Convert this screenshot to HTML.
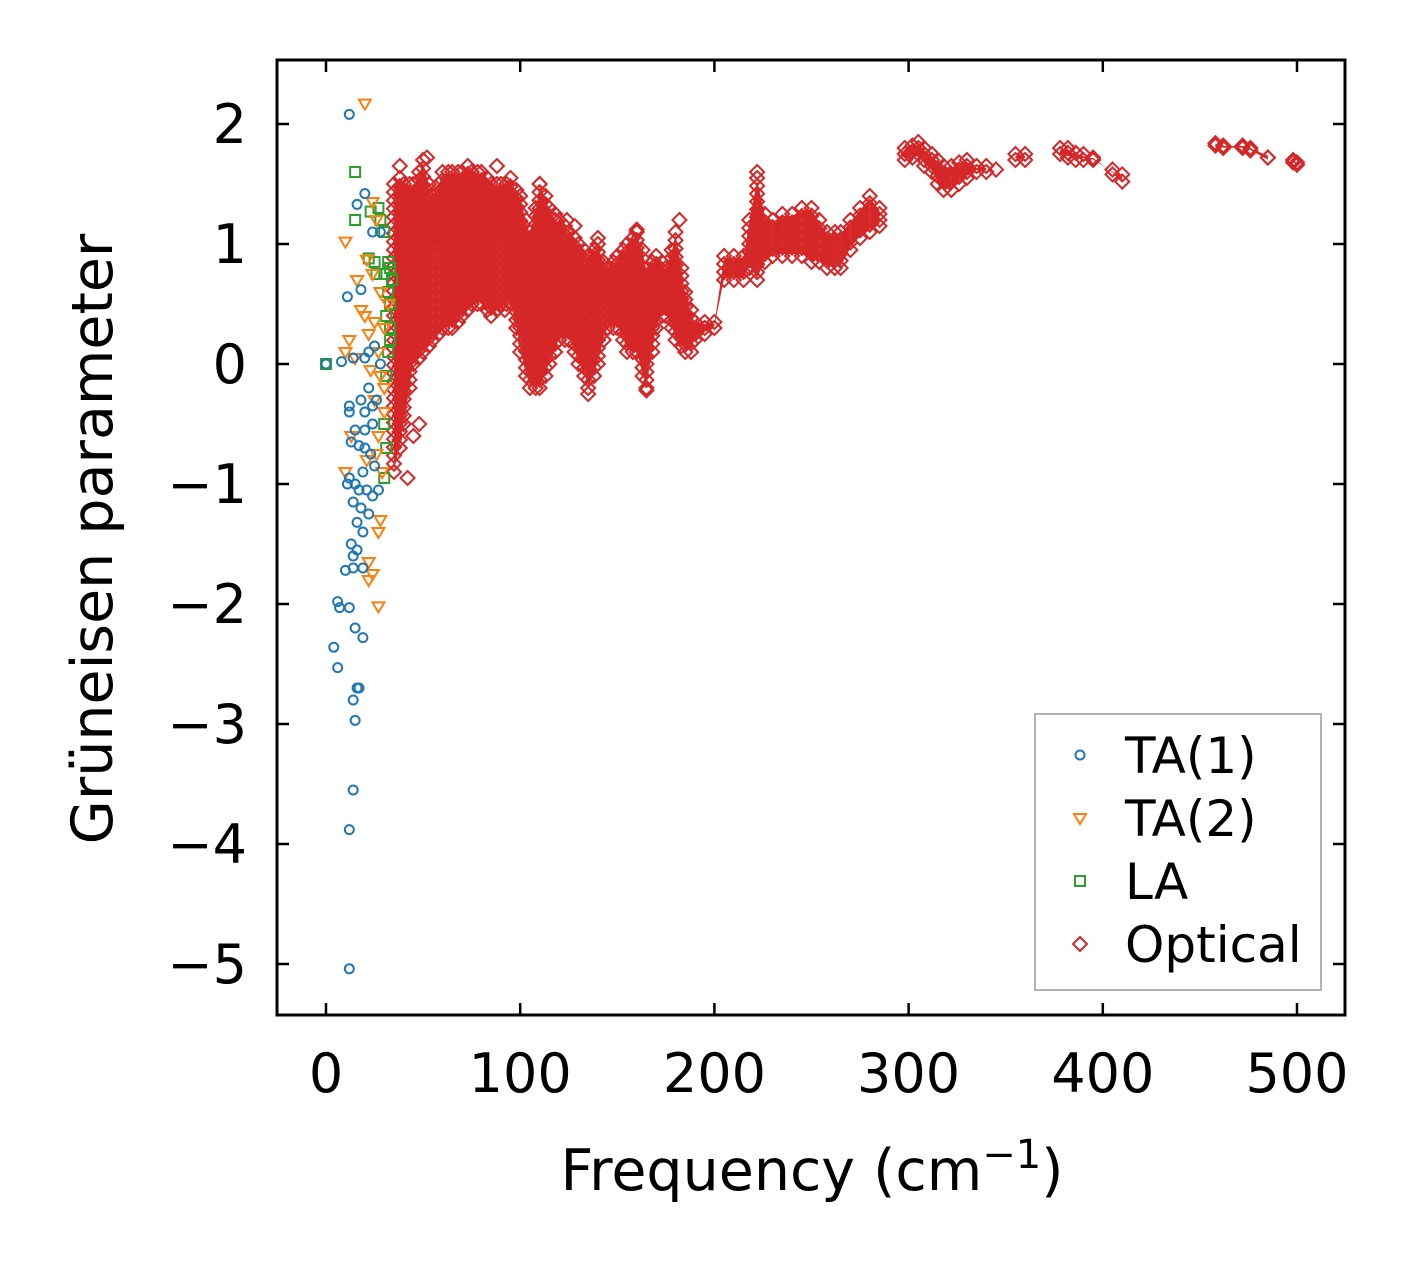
<!DOCTYPE html>
<html><head><meta charset="utf-8"><style>
html,body{margin:0;padding:0;background:#fff;}
svg text{font-family:"DejaVu Sans","Liberation Sans",sans-serif;fill:#000;}
</style></head><body>
<svg id="chart" width="1412" height="1264" viewBox="0 0 1412 1264" xmlns="http://www.w3.org/2000/svg">
<rect x="0" y="0" width="1412" height="1264" fill="#fff"/>
<g id="plot"></g>
<g id="axes"></g>
<text x="812" y="1190" font-size="57" text-anchor="middle">Frequency (cm<tspan dy="-22" font-size="40">−1</tspan><tspan dy="22">)</tspan></text>
<text transform="translate(112,539) rotate(-90)" font-size="57" text-anchor="middle">Grüneisen parameter</text>
<g>
<rect x="1035" y="714" width="286" height="276" fill="#fff" stroke="#999" stroke-width="1.5"/>
<circle cx="1080" cy="755" r="4.5" fill="none" stroke="#1f77b4" stroke-width="2"/>
<text x="1125" y="773" font-size="50">TA(1)</text>
<path d="M1074,814 L1086,814 L1080,824 Z" fill="none" stroke="#ff7f0e" stroke-width="2"/>
<text x="1125" y="836" font-size="50">TA(2)</text>
<rect x="1075" y="876" width="10" height="10" fill="none" stroke="#2ca02c" stroke-width="2"/>
<text x="1125" y="899" font-size="50">LA</text>
<path d="M1080,937 L1087,944 L1080,951 L1073,944 Z" fill="none" stroke="#d62728" stroke-width="2"/>
<text x="1125" y="962" font-size="50">Optical</text>
</g>
</svg>
<script>
const xTicks=[0,100,200,300,400,500];
const yTicks=[2,1,0,-1,-2,-3,-4,-5];
const yTickLabels=["2","1","0","−1","−2","−3","−4","−5"];
const ta1F=[12,16,20,24,28,18,11,14,8,20,22,25,12,12,18,20,24,15,20,24,13,17,20,23,25,19,12,11,15,17,21,24,27,14,18,22,16,19,13,16,14,10,14,19,6,7,12,15,19,4,6,16,17,14,15,14,12,12,0,22,26,28];
const ta1G=[2.08,1.33,1.42,1.1,1.1,0.62,0.56,0.05,0.02,0.05,0.1,0.15,-0.35,-0.4,-0.3,-0.4,-0.35,-0.55,-0.55,-0.5,-0.65,-0.68,-0.7,-0.75,-0.85,-0.9,-0.95,-1.0,-1.0,-1.05,-1.05,-1.1,-1.05,-1.15,-1.2,-1.25,-1.32,-1.4,-1.5,-1.55,-1.6,-1.72,-1.7,-1.7,-1.98,-2.03,-2.03,-2.2,-2.28,-2.36,-2.53,-2.7,-2.7,-2.8,-2.97,-3.55,-3.88,-5.04,0,-0.2,-0.3,0.0];
const ta2F=[20,10,24,26,16,21,24,28,20,25,12,22,27,10,23,28,30,25,13,27,21,26,10,28,27,22,22,24,27,30,32,30,29,18,15];
const ta2G=[2.17,1.02,1.35,1.2,0.7,0.87,0.75,0.6,0.4,0.35,0.2,0.25,0.1,0.1,-0.05,-0.1,-0.2,-0.3,-0.6,-0.6,-0.8,-0.75,-0.9,-1.3,-1.4,-1.65,-1.8,-1.75,-2.02,0.3,0.5,-0.4,-0.9,0.45,0.05];
const laF=[15,15,23,27,28,30,22,25,32,33,30,32,33,31,33,33,32,31,30,31,30,0,26,34];
const laG=[1.6,1.2,1.27,1.3,1.2,1.1,0.88,0.85,0.85,0.8,0.75,0.6,0.5,0.4,0.3,0.2,0.1,-0.1,-0.5,-0.7,-0.95,0,0.75,0.7];
const optF=[35,38,40,43,45,48,50,53,55,58,60,63,65,68,70,73,75,78,80,83,85,88,90,93,95,98,100,103,105,108,110,113,115,118,120,123,125,128,130,133,135,138,140,143,145,148,150,153,155,158,160,163,165,168,170,173,175,178,180,183,185,188,190,195,200,205,210,215,218,222,226,230,235,240,245,250,254,258,262,265,270,275,280,285,298,302,305,308,312,315,318,322,326,330,335,340,355,360,378,382,386,390,395,405,410,458,462,472,476,485,498,500];
const optLow=[-0.9,-0.7,-0.5,-0.2,0.0,0.05,0.1,0.15,0.2,0.25,0.3,0.3,0.3,0.35,0.4,0.45,0.5,0.5,0.5,0.45,0.4,0.45,0.5,0.5,0.5,0.3,0.1,-0.1,-0.2,-0.2,-0.2,-0.1,0.0,0.1,0.2,0.2,0.2,0.1,0.0,-0.1,-0.2,-0.1,0.0,0.2,0.3,0.3,0.3,0.2,0.1,0.1,0.1,-0.1,-0.2,0.1,0.3,0.4,0.4,0.3,0.2,0.15,0.1,0.1,0.2,0.25,0.3,0.7,0.7,0.7,0.8,0.7,0.85,0.9,0.9,0.9,0.9,0.85,0.85,0.8,0.8,0.8,0.95,1.05,1.1,1.15,1.7,1.72,1.75,1.65,1.6,1.5,1.45,1.45,1.5,1.55,1.6,1.6,1.7,1.7,1.75,1.72,1.7,1.7,1.7,1.58,1.52,1.82,1.8,1.8,1.78,1.72,1.68,1.66];
const optHigh=[1.5,1.55,1.5,1.5,1.5,1.6,1.7,1.5,1.4,1.5,1.6,1.6,1.6,1.6,1.6,1.65,1.6,1.6,1.6,1.55,1.5,1.5,1.5,1.5,1.55,1.45,1.4,1.2,1.1,1.3,1.5,1.4,1.3,1.2,1.2,1.15,1.1,1.05,1.0,0.95,0.9,0.95,1.0,0.85,0.8,0.85,0.9,0.95,1.0,1.05,1.1,0.95,0.8,0.85,0.9,0.85,0.8,0.95,1.1,0.8,0.6,0.45,0.35,0.35,0.35,0.9,0.9,0.9,1.2,1.55,1.25,1.2,1.25,1.25,1.3,1.3,1.2,1.1,1.1,1.1,1.2,1.3,1.4,1.3,1.8,1.82,1.85,1.8,1.75,1.7,1.65,1.65,1.68,1.7,1.65,1.65,1.75,1.75,1.8,1.8,1.76,1.75,1.72,1.62,1.58,1.84,1.82,1.82,1.8,1.72,1.7,1.68];
const optOutF=[38,42,45,48,52,88,92,110,118,124,128,135,140,160,165,182,222,300,345];
const optOutG=[1.65,-0.95,-0.6,-0.5,1.72,1.65,0.45,1.5,1.25,1.2,1.15,-0.25,1.05,1.12,-0.22,1.2,1.6,1.75,1.62];

const X0=277,X1=1345,Y0=60,Y1=1015;
const xs=f=>326+(f-0)*(1297-326)/500;
const ys=g=>364-g*(364-124)/2;
const NS="http://www.w3.org/2000/svg";
const plot=document.getElementById('plot');
const axes=document.getElementById('axes');
function mk(tag,attrs,parent){const e=document.createElementNS(NS,tag);for(const k in attrs)e.setAttribute(k,attrs[k]);parent.appendChild(e);return e;}
function diamond(f,g){const x=xs(f),y=ys(g);const e=mk('path',{d:`M${x},${y-7}L${x+7},${y}L${x},${y+7}L${x-7},${y}Z`,fill:'none',stroke:'#d62728','stroke-width':2},plot);

}
for(let i=0;i<optF.length;i++){
  const lo=optLow[i],hi=optHigh[i];const n=Math.max(1,Math.ceil((hi-lo)/0.07));
  for(let k=0;k<=n;k++)diamond(optF[i],lo+(hi-lo)*k/n);
}
for(let i=0;i<optF.length-1;i++){
  if(optF[i+1]-optF[i]>12)continue;
  const p=mk('polygon',{points:`${xs(optF[i])},${ys(optHigh[i])+2} ${xs(optF[i+1])},${ys(optHigh[i+1])+2} ${xs(optF[i+1])},${ys(optLow[i+1])-2} ${xs(optF[i])},${ys(optLow[i])-2}`,fill:'#d62728'},plot);
  
  
}
for(let i=0;i<optOutF.length;i++)diamond(optOutF[i],optOutG[i]);
for(let i=0;i<laF.length;i++){const x=xs(laF[i]),y=ys(laG[i]);
  const e=mk('rect',{x:x-5,y:y-5,width:10,height:10,fill:'none',stroke:'#2ca02c','stroke-width':2},plot);
  
  }
for(let i=0;i<ta2F.length;i++){const x=xs(ta2F[i]),y=ys(ta2G[i]);
  const e=mk('path',{d:`M${x-6},${y-4}L${x+6},${y-4}L${x},${y+6}Z`,fill:'none',stroke:'#ff7f0e','stroke-width':2},plot);
  
  }
for(let i=0;i<ta1F.length;i++){
  const e=mk('circle',{cx:xs(ta1F[i]),cy:ys(ta1G[i]),r:4.5,fill:'none',stroke:'#1f77b4','stroke-width':2},plot);
  
  }
const fr=mk('rect',{x:X0,y:Y0,width:X1-X0,height:Y1-Y0,fill:'none',stroke:'#000','stroke-width':3},axes);


xTicks.forEach(t=>{const x=xs(t);
  mk('line',{x1:x,x2:x,y1:Y1,y2:Y1-12,stroke:'#000','stroke-width':2.5},axes);
  mk('line',{x1:x,x2:x,y1:Y0,y2:Y0+12,stroke:'#000','stroke-width':2.5},axes);
  const tx=mk('text',{x:x,y:1092,'font-size':54,'text-anchor':'middle'},axes);tx.textContent=t;
  
  });
yTicks.forEach((t,i)=>{const y=ys(t);
  mk('line',{x1:X0,x2:X0+12,y1:y,y2:y,stroke:'#000','stroke-width':2.5},axes);
  mk('line',{x1:X1,x2:X1-12,y1:y,y2:y,stroke:'#000','stroke-width':2.5},axes);
  const tx=mk('text',{x:247,y:y+19,'font-size':54,'text-anchor':'end'},axes);tx.textContent=yTickLabels[i];
  
  });
</script>
</body></html>
